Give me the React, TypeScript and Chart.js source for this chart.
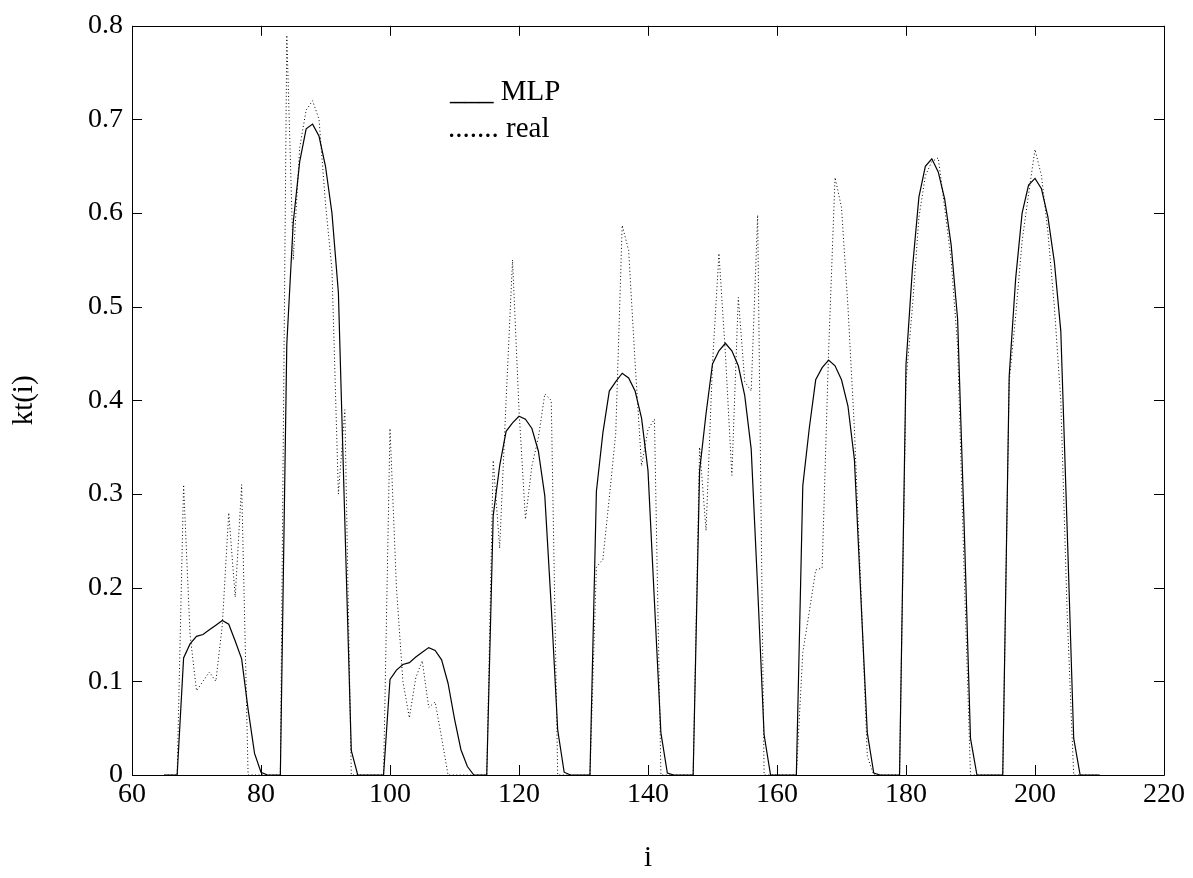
import React, { useEffect, useRef } from "react";
import { Chart, registerables } from "chart.js";

Chart.register(...registerables);

const iValues = [
  65, 66, 67, 68, 69, 70, 71, 72, 73, 74, 75, 76, 77, 78, 79, 80, 81, 82, 83, 84,
  85, 86, 87, 88, 89, 90, 91, 92, 93, 94, 95, 96, 97, 98, 99, 100, 101, 102, 103, 104,
  105, 106, 107, 108, 109, 110, 111, 112, 113, 114, 115, 116, 117, 118, 119, 120, 121, 122, 123, 124,
  125, 126, 127, 128, 129, 130, 131, 132, 133, 134, 135, 136, 137, 138, 139, 140, 141, 142, 143, 144,
  145, 146, 147, 148, 149, 150, 151, 152, 153, 154, 155, 156, 157, 158, 159, 160, 161, 162, 163, 164,
  165, 166, 167, 168, 169, 170, 171, 172, 173, 174, 175, 176, 177, 178, 179, 180, 181, 182, 183, 184,
  185, 186, 187, 188, 189, 190, 191, 192, 193, 194, 195, 196, 197, 198, 199, 200, 201, 202, 203, 204,
  205, 206, 207, 208, 209, 210,
];

const mlpValues = [
  0, 0, 0, 0.125, 0.14, 0.148, 0.15, 0.155, 0.16, 0.165, 0.161, 0.143, 0.124, 0.07, 0.023, 0.003, 0, 0, 0, 0.46,
  0.59, 0.655, 0.69, 0.695, 0.682, 0.65, 0.6, 0.515, 0.27, 0.026, 0, 0, 0, 0, 0, 0.102, 0.112, 0.118, 0.12, 0.126,
  0.131, 0.136, 0.133, 0.123, 0.098, 0.06, 0.027, 0.009, 0, 0, 0, 0.277, 0.33, 0.367, 0.376, 0.383, 0.38, 0.37, 0.346, 0.298,
  0.18, 0.048, 0.003, 0, 0, 0, 0, 0.303, 0.365, 0.41, 0.42, 0.429, 0.424, 0.41, 0.381, 0.325, 0.185, 0.045, 0.002, 0,
  0, 0, 0, 0.325, 0.386, 0.439, 0.453, 0.461, 0.453, 0.437, 0.405, 0.348, 0.2, 0.043, 0, 0, 0, 0, 0, 0.309,
  0.37, 0.422, 0.435, 0.443, 0.437, 0.422, 0.394, 0.337, 0.19, 0.045, 0.002, 0, 0, 0, 0, 0.438, 0.541, 0.617, 0.65, 0.658,
  0.644, 0.615, 0.566, 0.487, 0.27, 0.039, 0, 0, 0, 0, 0, 0.426, 0.53, 0.6, 0.63, 0.637, 0.626, 0.596, 0.548, 0.474,
  0.26, 0.039, 0, 0, 0, 0,
];

const realValues = [
  0, 0, 0, 0.31, 0.15, 0.09, 0.1, 0.11, 0.1, 0.16, 0.28, 0.19, 0.31, 0, 0, 0, 0, 0, 0, 0.79,
  0.55, 0.67, 0.71, 0.72, 0.7, 0.61, 0.54, 0.3, 0.39, 0, 0, 0, 0, 0, 0, 0.37, 0.2, 0.1, 0.061, 0.104,
  0.122, 0.072, 0.078, 0.04, 0, 0, 0, 0, 0, 0, 0, 0.336, 0.242, 0.4, 0.55, 0.39, 0.273, 0.33, 0.36, 0.407,
  0.4, 0, 0, 0, 0, 0, 0, 0.222, 0.23, 0.296, 0.365, 0.587, 0.56, 0.44, 0.33, 0.369, 0.38, 0, 0, 0,
  0, 0, 0, 0.35, 0.261, 0.439, 0.557, 0.45, 0.32, 0.51, 0.42, 0.41, 0.598, 0, 0, 0, 0, 0, 0, 0.131,
  0.174, 0.219, 0.221, 0.452, 0.638, 0.606, 0.5, 0.37, 0.2, 0.02, 0, 0, 0, 0, 0, 0.42, 0.5, 0.595, 0.64, 0.655,
  0.659, 0.605, 0.55, 0.458, 0.22, 0, 0, 0, 0, 0, 0, 0.42, 0.49, 0.57, 0.62, 0.668, 0.64, 0.58, 0.5, 0.4,
  0.17, 0, 0, 0, 0, 0,
];

const xTickMin = 60;
const xTickMax = 220;
const xTickStep = 20;
const yTickMin = 0;
const yTickMax = 0.8;
const yTickStep = 0.1;

const legendLines = ["___ MLP", "....... real"];
const xTitle = "i";
const yTitle = "kt(i)";

const FONT = "'Liberation Serif', 'Times New Roman', serif";

const framePlugin = {
  id: "matlabFrame",
  afterDraw(chart: any) {
    const { ctx, chartArea } = chart;
    const { left, right, top, bottom } = chartArea;
    const xs = chart.scales.x;
    const ys = chart.scales.y;
    const tickLen = 10;
    ctx.save();
    ctx.strokeStyle = "#000";
    ctx.lineWidth = 1;
    ctx.beginPath();
    ctx.rect(Math.round(left) + 0.5, Math.round(top) + 0.5, Math.round(right - left), Math.round(bottom - top));
    ctx.stroke();
    ctx.beginPath();
    xs.ticks.forEach((t: any) => {
      const px = Math.round(xs.getPixelForValue(t.value)) + 0.5;
      ctx.moveTo(px, bottom);
      ctx.lineTo(px, bottom - tickLen);
      ctx.moveTo(px, top);
      ctx.lineTo(px, top + tickLen);
    });
    ys.ticks.forEach((t: any) => {
      const py = Math.round(ys.getPixelForValue(t.value)) + 0.5;
      ctx.moveTo(left, py);
      ctx.lineTo(left + tickLen, py);
      ctx.moveTo(right, py);
      ctx.lineTo(right - tickLen, py);
    });
    ctx.stroke();
    ctx.fillStyle = "#000";
    ctx.font = `29px ${FONT}`;
    ctx.textAlign = "left";
    ctx.textBaseline = "alphabetic";
    ctx.fillText(legendLines[0], 450, 100);
    ctx.fillText(legendLines[1], 448, 137);
    ctx.restore();
  },
};

export default function App() {
  const canvasRef = useRef<HTMLCanvasElement | null>(null);

  useEffect(() => {
    document.body.style.margin = "0";
    const canvas = canvasRef.current;
    if (!canvas) return;
    const mlpData = iValues.map((i, k) => ({ x: i, y: mlpValues[k] }));
    const realData = iValues.map((i, k) => ({ x: i, y: realValues[k] }));
    const chart = new Chart(canvas, {
      type: "line",
      data: {
        datasets: [
          {
            label: "real",
            data: realData,
            borderColor: "#000",
            borderWidth: 1,
            borderDash: [1, 2.5],
            pointRadius: 0,
            tension: 0,
            fill: false,
          },
          {
            label: "MLP",
            data: mlpData,
            borderColor: "#000",
            borderWidth: 1.2,
            pointRadius: 0,
            tension: 0,
            fill: false,
          },
        ],
      },
      options: {
        animation: false,
        responsive: false,
        devicePixelRatio: 1,
        layout: { padding: { top: 24, right: 29, left: 0, bottom: 0 } },
        plugins: {
          legend: { display: false },
          tooltip: { enabled: false },
        },
        scales: {
          x: {
            type: "linear",
            min: xTickMin,
            max: xTickMax,
            grid: { display: false, drawTicks: false },
            border: { display: false },
            ticks: {
              stepSize: xTickStep,
              color: "#000",
              padding: 3,
              maxRotation: 0,
              font: { family: FONT, size: 28 },
            },
            title: {
              display: true,
              text: xTitle,
              color: "#000",
              font: { family: FONT, size: 29 },
              padding: { top: 0, bottom: 2 },
            },
            afterFit(scale: any) {
              scale.height = 103;
            },
          },
          y: {
            type: "linear",
            min: yTickMin,
            max: yTickMax,
            grid: { display: false, drawTicks: false },
            border: { display: false },
            ticks: {
              stepSize: yTickStep,
              color: "#000",
              padding: 9,
              font: { family: FONT, size: 28 },
              callback: (v: any) => (Number(v) === 0 ? "0" : Number(v).toFixed(1)),
            },
            title: {
              display: true,
              text: yTitle,
              color: "#000",
              font: { family: FONT, size: 29 },
              padding: { top: 7, bottom: 0 },
            },
            afterFit(scale: any) {
              scale.width = 132;
            },
          },
        },
      },
      plugins: [framePlugin],
    });
    return () => chart.destroy();
  }, []);

  return (
    <div style={{ width: 1193, height: 878, background: "#fff" }}>
      <canvas ref={canvasRef} width={1193} height={878} style={{ display: "block" }} />
    </div>
  );
}
